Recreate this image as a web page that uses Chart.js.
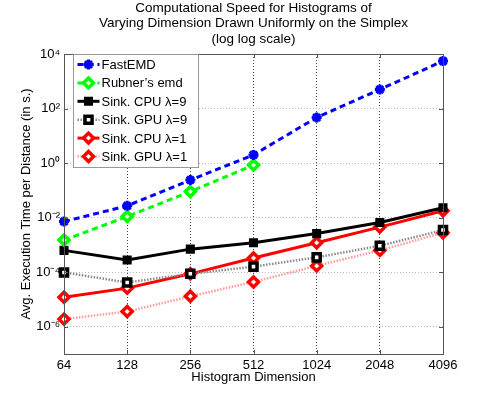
<!DOCTYPE html>
<html>
<head>
<meta charset="utf-8">
<script src="https://cdn.jsdelivr.net/npm/chart.js@4/dist/chart.umd.min.js"></script>
<style>
  html, body { margin: 0; padding: 0; background: #fff; }
  #wrap { width: 491px; height: 399px; }
</style>
</head>
<body>
<div id="wrap"><canvas id="grafico" width="491" height="399"></canvas></div>
<script>
// Datos
const dimensiones = [64, 128, 256, 512, 1024, 2048, 4096];
const fastEmd   = [7.2e-3, 0.027, 0.24, 2.0, 47, 500, 5500];
const rubnerEmd = [1.5e-3, 0.011, 0.09, 0.85, null, null, null];
const sinkCpu9  = [6.3e-4, 2.8e-4, 7.0e-4, 1.2e-3, 2.6e-3, 6.6e-3, 0.023];
const sinkGpu9  = [9.8e-5, 4.2e-5, 8.7e-5, 1.6e-4, 3.5e-4, 9.3e-4, 3.5e-3];
const sinkCpu1  = [1.2e-5, 2.6e-5, 8.7e-5, 3.3e-4, 1.2e-3, 4.5e-3, 0.018];
const sinkGpu1  = [1.9e-6, 3.6e-6, 1.3e-5, 4.4e-5, 1.7e-4, 6.3e-4, 2.8e-3];

const ticksX = [64, 128, 256, 512, 1024, 2048, 4096];
const ticksY = [1e-6, 1e-4, 1e-2, 1, 1e2, 1e4];
const etiquetasY = ['10⁻⁶', '10⁻⁴', '10⁻²', '10⁰', '10²', '10⁴'];

const titulo = [
    'Computational Speed for Histograms of',
    'Varying Dimension Drawn Uniformly on the Simplex',
    '(log log scale)'
];

const FUENTE = '"Liberation Sans", Arial, Helvetica, sans-serif';
Chart.defaults.font.family = FUENTE;
Chart.defaults.font.size = 13;
Chart.defaults.color = '#000';

function puntos(serie) {
    return dimensiones
        .map((x, i) => ({ x: x, y: serie[i] }))
        .filter(p => p.y !== null);
}

function serie(label, datos, estilo) {
    return Object.assign({
        label: label,
        data: puntos(datos),
        fill: false,
        tension: 0,
        clip: false
    }, estilo);
}

const datasets = [
    serie('FastEMD', fastEmd, {
        borderColor: '#0000ff', borderWidth: 3, borderDash: [6, 4],
        pointStyle: 'star', pointRadius: 5, pointBorderWidth: 3,
        pointBorderColor: '#0000ff', pointBackgroundColor: '#0000ff'
    }),
    serie('Rubner\u2019s emd', rubnerEmd, {
        borderColor: '#00ff00', borderWidth: 3, borderDash: [6, 4],
        pointStyle: 'rectRot', pointRadius: 5, pointBorderWidth: 3.5,
        pointBorderColor: '#00ff00', pointBackgroundColor: '#e6ffe6'
    }),
    serie('Sink. CPU \u03bb=9', sinkCpu9, {
        borderColor: '#000000', borderWidth: 3,
        pointStyle: 'rect', pointRadius: 5, pointBorderWidth: 2,
        pointBorderColor: '#000000', pointBackgroundColor: '#000000'
    }),
    serie('Sink. GPU \u03bb=9', sinkGpu9, {
        borderColor: '#8a8a8a', borderWidth: 2.5, borderDash: [1.5, 1.5],
        pointStyle: 'rect', pointRadius: 5, pointBorderWidth: 3.5,
        pointBorderColor: '#000000', pointBackgroundColor: '#ffffff'
    }),
    serie('Sink. CPU \u03bb=1', sinkCpu1, {
        borderColor: '#ff0000', borderWidth: 3,
        pointStyle: 'rectRot', pointRadius: 5, pointBorderWidth: 3.5,
        pointBorderColor: '#ff0000', pointBackgroundColor: '#ffffff'
    }),
    serie('Sink. GPU \u03bb=1', sinkGpu1, {
        borderColor: '#ff9a9a', borderWidth: 2.5, borderDash: [1.5, 1.5],
        pointStyle: 'rectRot', pointRadius: 5, pointBorderWidth: 3.5,
        pointBorderColor: '#ff0000', pointBackgroundColor: '#ffffff'
    })
];

// Titulo centrado sobre el area del grafico
const pluginTitulo = {
    id: 'pluginTitulo',
    afterDraw(chart) {
        const ctx = chart.ctx;
        const area = chart.chartArea;
        const cx = (area.left + area.right) / 2;
        ctx.save();
        ctx.font = '13.5px ' + FUENTE;
        ctx.fillStyle = '#000';
        ctx.textAlign = 'center';
        ctx.textBaseline = 'middle';
        titulo.forEach((linea, i) => ctx.fillText(linea, cx, 8 + i * 15.6));
        ctx.restore();
    }
};

// Caja de ejes con marcas hacia adentro (estilo MATLAB) y leyenda interna
const pluginCaja = {
    id: 'pluginCaja',
    afterDatasetsDraw(chart) {
        const ctx = chart.ctx;
        const a = chart.chartArea;
        const sx = chart.scales.x;
        const sy = chart.scales.y;
        ctx.save();
        ctx.strokeStyle = '#555';
        ctx.lineWidth = 1;
        ctx.setLineDash([]);
        ctx.strokeRect(a.left + 0.5, a.top + 0.5, a.right - a.left, a.bottom - a.top);
        ctx.beginPath();
        ticksX.forEach(v => {
            const px = Math.round(sx.getPixelForValue(v)) + 0.5;
            ctx.moveTo(px, a.bottom); ctx.lineTo(px, a.bottom - 4);
            ctx.moveTo(px, a.top); ctx.lineTo(px, a.top + 4);
        });
        ticksY.forEach(v => {
            const py = Math.round(sy.getPixelForValue(v)) + 0.5;
            ctx.moveTo(a.left, py); ctx.lineTo(a.left + 4, py);
            ctx.moveTo(a.right, py); ctx.lineTo(a.right - 4, py);
        });
        ctx.stroke();
        ctx.restore();
    },
    afterDraw(chart) {
        const ctx = chart.ctx;
        const a = chart.chartArea;
        const x0 = a.left + 9.5, y0 = a.top + 0.5, w = 125, h = 113;
        ctx.save();
        ctx.fillStyle = '#fff';
        ctx.fillRect(x0, y0, w, h);
        ctx.strokeStyle = '#999';
        ctx.lineWidth = 1;
        ctx.strokeRect(x0, y0, w, h);
        ctx.font = '13px ' + FUENTE;
        ctx.textBaseline = 'middle';
        chart.data.datasets.forEach((ds, i) => {
            const y = y0 + 10 + i * 18.4;
            ctx.setLineDash(ds.borderDash || []);
            ctx.strokeStyle = ds.borderColor;
            ctx.lineWidth = ds.borderWidth;
            ctx.beginPath();
            ctx.moveTo(x0 + 4, y); ctx.lineTo(x0 + 26, y);
            ctx.stroke();
            ctx.setLineDash([]);
            ctx.strokeStyle = ds.pointBorderColor;
            ctx.fillStyle = ds.pointBackgroundColor;
            ctx.lineWidth = ds.pointBorderWidth;
            Chart.helpers.drawPoint(ctx, {
                pointStyle: ds.pointStyle, radius: ds.pointRadius,
                borderWidth: ds.pointBorderWidth, rotation: 0
            }, x0 + 15, y);
            ctx.fillStyle = '#000';
            ctx.fillText(ds.label, x0 + 28, y + 1);
        });
        ctx.restore();
    }
};

new Chart(document.getElementById('grafico'), {
    type: 'line',
    data: { datasets: datasets },
    plugins: [pluginCaja, pluginTitulo],
    options: {
        responsive: false,
        animation: false,
        layout: { padding: { top: 54, left: 0, right: 48, bottom: 0 } },
        plugins: {
            legend: { display: false },
            title: { display: false },
            tooltip: { enabled: false }
        },
        scales: {
            x: {
                type: 'logarithmic',
                min: 64,
                max: 4096,
                afterBuildTicks: scale => { scale.ticks = ticksX.map(v => ({ value: v })); },
                afterFit: scale => { scale.height = 45; },
                ticks: {
                    autoSkip: false, maxRotation: 0, padding: 4, color: '#000',
                    callback: v => String(v)
                },
                grid: { color: '#444', lineWidth: 1, drawTicks: false },
                border: { display: false, dash: [1, 2] },
                title: {
                    display: true, text: 'Histogram Dimension', color: '#000',
                    font: { size: 13 }, padding: { top: 0, bottom: 14 }
                }
            },
            y: {
                type: 'logarithmic',
                min: 1e-7,
                max: 1e4,
                afterBuildTicks: scale => { scale.ticks = ticksY.map(v => ({ value: v })); },
                afterFit: scale => { scale.width = 64; },
                ticks: {
                    padding: 4, color: '#000',
                    callback: v => {
                        const i = ticksY.findIndex(t => Math.abs(Math.log10(t) - Math.log10(v)) < 1e-6);
                        return i >= 0 ? etiquetasY[i] : '';
                    }
                },
                grid: { color: '#bbb', lineWidth: 1, drawTicks: false },
                border: { display: false, dash: [1, 2] },
                title: {
                    display: true, text: 'Avg. Execution Time per Distance (in s.)', color: '#000',
                    font: { size: 13 }, padding: { top: 19, bottom: 0 }
                }
            }
        }
    }
});
</script>
</body>
</html>
